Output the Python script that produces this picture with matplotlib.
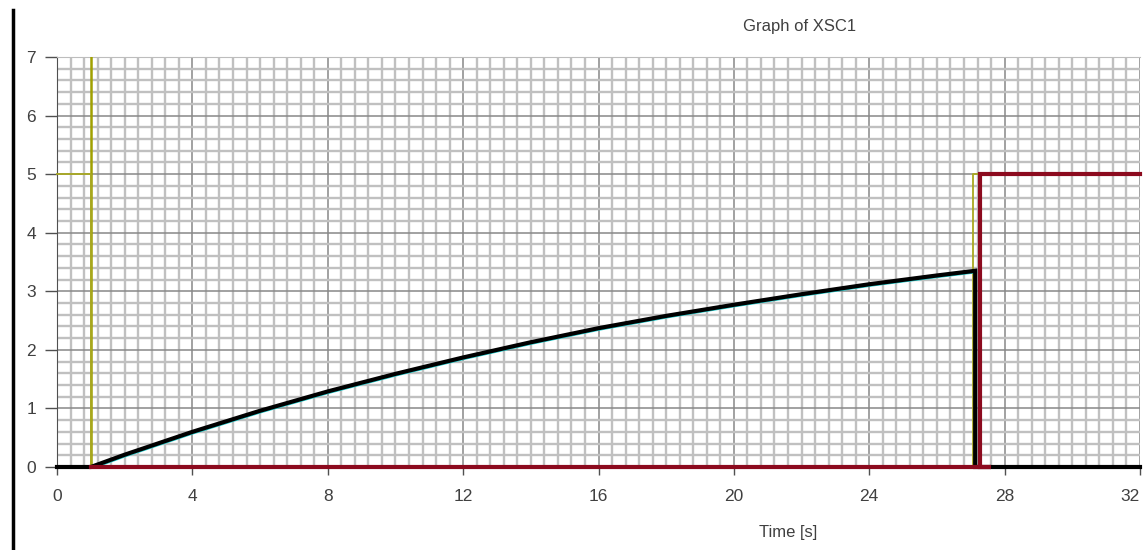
import numpy as np
import matplotlib.pyplot as plt
import matplotlib.transforms as mtransforms
from matplotlib.lines import Line2D

# signal d'entree (jaune) : 5 V puis 0 V puis 5 V
t_in = [0, 1, 1, 27.06, 27.06, 27.28]
v_in = [5, 5, 0, 0, 5, 5]
t_cursor = 1.0

# tension du condensateur (noir)
t_cap = [0, 1, 2, 4, 6, 8, 10, 12, 14, 16, 18, 20, 22, 24, 26, 27.13, 27.13, 32]
v_cap = [0, 0, 0.21, 0.60, 0.96, 1.29, 1.59, 1.87, 2.13, 2.37, 2.58, 2.77, 2.95, 3.12, 3.27, 3.35, 0, 0]

# sortie (rouge)
t_out = [1, 27.6, 27.28, 27.28, 32]
v_out = [0, 0, 0, 5, 5]

xticks = [0, 4, 8, 12, 16, 20, 24, 28, 32]
xticklabels = ["0", "4", "8", "12", "16", "20", "24", "28", "32"]
yticks = [0, 1, 2, 3, 4, 5, 6, 7]

plt.rcParams['font.family'] = ['Liberation Sans', 'DejaVu Sans']

fig = plt.figure(figsize=(11.47, 5.5), dpi=100)
ax = fig.add_axes([57/1147, 83/550, 1083/1147, 410/550])

ax.set_xlim(0, 32)
ax.set_ylim(0, 7)
ax.set_xticks(xticks)
ax.set_xticklabels(xticklabels)
ax.set_yticks(yticks)
ax.set_xticks(np.arange(0, 32.01, 0.4), minor=True)
ax.set_yticks(np.arange(0, 7.01, 0.2), minor=True)
ax.grid(which='minor', color='#c0c0c0', linewidth=1.7)
ax.grid(which='major', color='#888888', linewidth=1.1)
ax.set_axisbelow(True)
ax.tick_params(which='minor', length=0)
ax.tick_params(which='major', direction='out', length=6, width=1, color='#505050',
               labelcolor='#404040', labelsize=12.5)
ax.tick_params(axis='y', length=9, pad=6)
ax.tick_params(axis='x', pad=10)
# derniere etiquette collee au bord droit
ax.get_xticklabels()[-1].set_horizontalalignment('right')

ax.spines['right'].set_visible(False)
ax.spines['left'].set_color('#505050')
ax.spines['bottom'].set_color('#505050')
ax.spines['top'].set_color('#bdbdbd')

ax.axvline(t_cursor, color='#a0a000', linewidth=1.8, zorder=3)
ax.plot(t_in, v_in, color='#a8a820', linewidth=1.3, zorder=3, clip_on=False)

shift = mtransforms.offset_copy(ax.transData, fig=fig, x=0.6, y=-1.2, units='dots')
ax.plot(t_cap[1:16], v_cap[1:16], color='#20d0d0', linewidth=2, transform=shift, zorder=4)
ax.plot(t_cap, v_cap, color='black', linewidth=3, zorder=5, clip_on=False,
        solid_joinstyle='miter')
ax.plot(t_out, v_out, color='#8c0a1e', linewidth=3, zorder=6, clip_on=False,
        solid_joinstyle='miter')

fig.text(800/1147, 1 - 27/550, "Graph of XSC1", ha='center', va='center',
         fontsize=12, color='#404040')
fig.text(788/1147, 1 - 532/550, "Time [s]", ha='center', va='center',
         fontsize=12, color='#404040')

fig.add_artist(Line2D([13/1147, 13/1147], [0, 1 - 10/550], color='black', linewidth=2.5))

fig.savefig("out.png", dpi=100)
